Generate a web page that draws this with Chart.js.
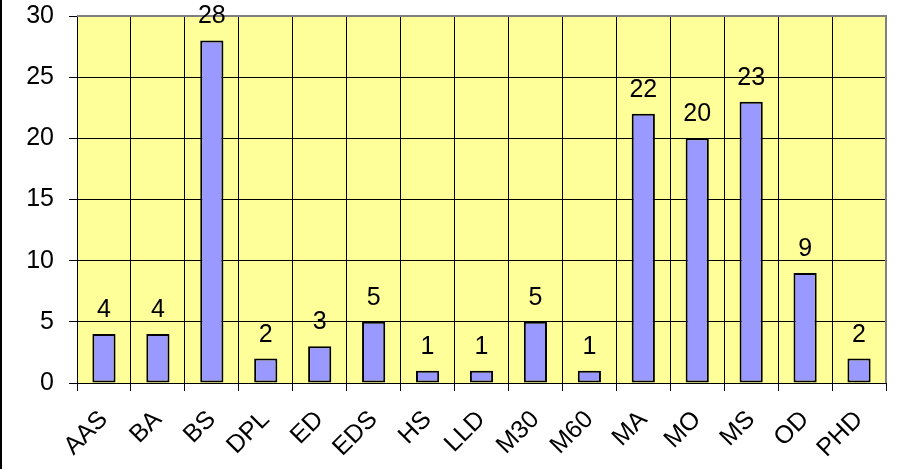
<!DOCTYPE html>
<html>
<head>
<meta charset="utf-8">
<script src="https://cdn.jsdelivr.net/npm/chart.js@4/dist/chart.umd.min.js"></script>
<style>
html,body{margin:0;padding:0;background:#fff;}
#wrap{width:899px;height:469px;position:relative;}
</style>
</head>
<body>
<div id="wrap"><canvas id="c" width="899" height="469"></canvas></div>
<script>
const categories = ["AAS","BA","BS","DPL","ED","EDS","HS","LLD","M30","M60","MA","MO","MS","OD","PHD"];
const counts = [4,4,28,2,3,5,1,1,5,1,22,20,23,9,2];
const yTicks = [0,5,10,15,20,25,30];

const FONT = "'Liberation Sans', Arial, sans-serif";

const decor = {
  id: 'decor',
  beforeDraw(chart) {
    const {ctx, chartArea: a} = chart;
    ctx.save();
    ctx.fillStyle = '#FFFF99';
    ctx.fillRect(a.left, a.top, a.right - a.left, a.bottom - a.top);
    ctx.restore();
  },
  afterDatasetsDraw(chart) {
    const {ctx, chartArea: a} = chart;
    ctx.save();
    ctx.strokeStyle = '#808080';
    ctx.lineWidth = 2;
    ctx.beginPath();
    ctx.moveTo(a.left, a.top);
    ctx.lineTo(a.right, a.top);
    ctx.lineTo(a.right, a.bottom);
    ctx.stroke();
    const meta = chart.getDatasetMeta(0);
    ctx.fillStyle = '#000';
    ctx.font = '25px ' + FONT;
    ctx.textAlign = 'center';
    ctx.textBaseline = 'alphabetic';
    meta.data.forEach((bar, i) => {
      ctx.fillText(String(counts[i]), bar.x, bar.y - 17);
    });
    ctx.fillStyle = '#000';
    ctx.fillRect(0, 0, 2, chart.height);
    ctx.restore();
  }
};

new Chart(document.getElementById('c'), {
  type: 'bar',
  data: {
    labels: categories,
    datasets: [{
      data: counts,
      backgroundColor: '#9999FF',
      borderColor: '#000000',
      borderWidth: 2,
      borderSkipped: false,
      categoryPercentage: 1.0,
      barPercentage: 0.43
    }]
  },
  options: {
    responsive: false,
    animation: false,
    events: [],
    layout: { autoPadding: false, padding: { top: 16, right: 13, left: 0, bottom: 0 } },
    plugins: { legend: { display: false }, tooltip: { enabled: false } },
    scales: {
      x: {
        grid: { display: true, color: '#000', lineWidth: 1, offset: true, tickLength: 8, drawTicks: true },
        border: { color: '#000', width: 1 },
        ticks: {
          maxRotation: 45, minRotation: 45, autoSkip: false,
          color: '#000', font: { family: FONT, size: 25 }, padding: 14
        },
        afterFit(s) { s.height = 469 - 383; s.paddingLeft = 0; s.paddingRight = 0; }
      },
      y: {
        min: 0, max: 30,
        afterBuildTicks(s) { s.ticks = yTicks.map(v => ({ value: v })); },
        grid: { color: '#000', lineWidth: 1, tickLength: 8, drawTicks: true },
        border: { color: '#000', width: 1 },
        ticks: { color: '#000', font: { family: FONT, size: 25 }, padding: 15 },
        afterFit(s) { s.width = 77; s.paddingTop = 0; s.paddingBottom = 0; }
      }
    }
  },
  plugins: [decor]
});
</script>
</body>
</html>
